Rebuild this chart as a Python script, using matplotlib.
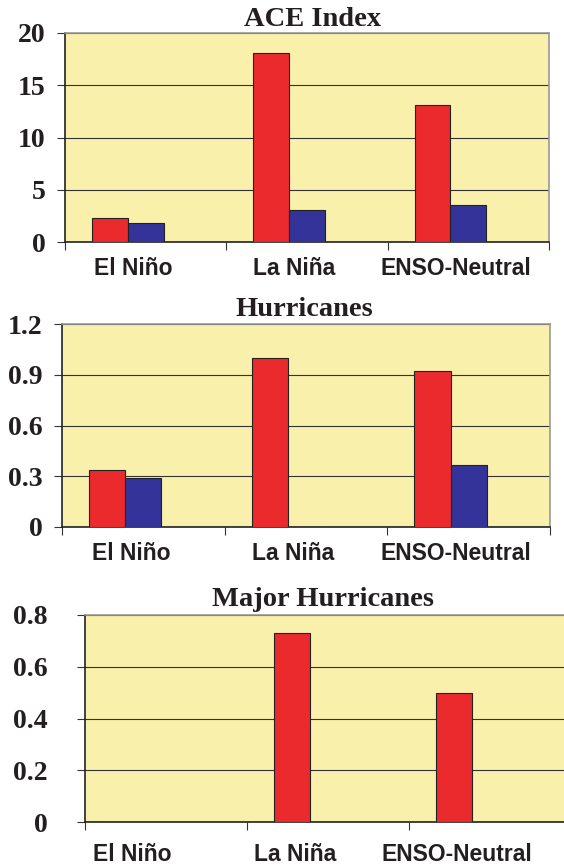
import numpy as np
import matplotlib.pyplot as plt
from matplotlib.transforms import ScaledTranslation

categories = ["El Niño", "La Niña", "ENSO-Neutral"]

ace_red = [2.25, 18.1, 13.1]
ace_blue = [1.85, 3.1, 3.5]
hur_red = [0.335, 1.0, 0.92]
hur_blue = [0.29, 0.0, 0.365]
maj_red = [0.0, 0.73, 0.5]
maj_blue = [0.0, 0.0, 0.0]

ace_ticks = [0, 5, 10, 15, 20]
ace_ticklabels = ["0", "5", "10", "15", "20"]
hur_ticks = [0, 0.3, 0.6, 0.9, 1.2]
hur_ticklabels = ["0", "0.3", "0.6", "0.9", "1.2"]
maj_ticks = [0, 0.2, 0.4, 0.6, 0.8]
maj_ticklabels = ["0", "0.2", "0.4", "0.6", "0.8"]

RED = "#EB2A2E"
BLUE = "#333399"
BG = "#F9F0AC"
TXT = "#231F20"

fig = plt.figure(figsize=(5.64, 8.65), dpi=100)

def panel(rect, red, blue, ticks, ticklabels, title, title_xy, ypad, label_shift, xpad):
    ax = fig.add_axes(rect)
    ax.set_facecolor(BG)
    x = np.arange(len(categories)) + 0.5
    w = 1 / 4.5
    ax.bar(x - w, red, w, color=RED, edgecolor="#222222", linewidth=0.8, zorder=3)
    ax.bar(x, blue, w, color=BLUE, edgecolor="#222222", linewidth=0.8, zorder=3)
    ax.set_xlim(0, 3)
    ax.set_ylim(ticks[0], ticks[-1])
    ax.set_yticks(ticks)
    ax.set_yticklabels(ticklabels, family="Liberation Serif", fontweight="bold",
                       fontsize=20, color=TXT)
    ax.yaxis.grid(True, color="#333333", linewidth=0.8, zorder=1)
    ax.set_axisbelow(True)
    ax.tick_params(axis="y", direction="out", length=6, width=0.8, color="#333333", pad=ypad)
    # category boundaries as major ticks, names as minor ticks
    ax.set_xticks([0, 1, 2, 3])
    ax.set_xticklabels([])
    ax.set_xticks(x, minor=True)
    ax.set_xticklabels(categories, minor=True, family="Liberation Sans",
                       fontweight="bold", fontsize=16.5, color=TXT)
    ax.tick_params(axis="x", which="major", direction="out", length=6, width=0.8, color="#333333")
    ax.tick_params(axis="x", which="minor", length=0, pad=xpad)
    off = ScaledTranslation(label_shift / 72, 0, fig.dpi_scale_trans)
    for lab in ax.get_xticklabels(minor=True):
        lab.set_transform(lab.get_transform() + off)
    ax.spines["left"].set_color("#222222")
    ax.spines["bottom"].set_color("#222222")
    ax.spines["top"].set_color("#999999")
    ax.spines["right"].set_color("#999999")
    for s in ax.spines.values():
        s.set_linewidth(1.2)
    fig.text(title_xy[0] / 564, 1 - title_xy[1] / 865, title, ha="center", va="center",
             family="Liberation Serif", fontweight="bold", fontsize=20.5, color=TXT)
    return ax

panel([65 / 564, 1 - 242 / 865, 484 / 564, 209 / 865], ace_red, ace_blue,
      ace_ticks, ace_ticklabels, "ACE Index", (313, 20), 8, -9, 11)
panel([62 / 564, 1 - 527 / 865, 488 / 564, 203 / 865], hur_red, hur_blue,
      hur_ticks, hur_ticklabels, "Hurricanes", (304, 309), 8, -9, 11)
panel([85 / 564, 1 - 822 / 865, 486 / 564, 207 / 865], maj_red, maj_blue,
      maj_ticks, maj_ticklabels, "Major Hurricanes", (323, 600), 21, -24, 15)

fig.savefig("out.png", dpi=100)
